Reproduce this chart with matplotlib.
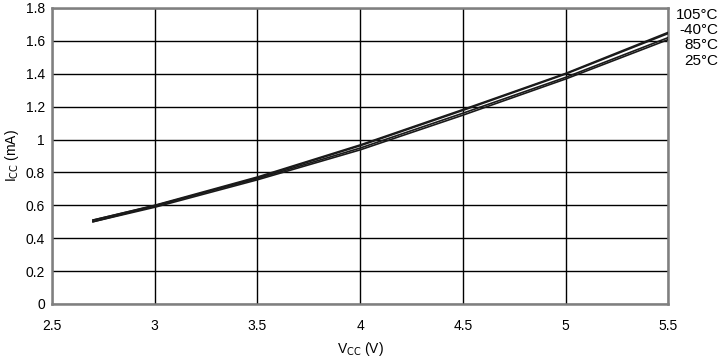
import matplotlib
matplotlib.use('Agg')
import matplotlib.pyplot as plt

plt.rcParams['font.family'] = ['Liberation Sans', 'DejaVu Sans']

# supply voltage (V)
vcc = [2.7, 3.0, 3.5, 4.0, 4.5, 5.0, 5.5]

# supply current (mA) per temperature
icc_105 = [0.51, 0.600, 0.772, 0.967, 1.182, 1.402, 1.652]
icc_m40 = [0.50, 0.595, 0.767, 0.962, 1.177, 1.398, 1.645]
icc_85 = [0.51, 0.598, 0.762, 0.948, 1.160, 1.378, 1.620]
icc_25 = [0.50, 0.588, 0.755, 0.937, 1.148, 1.368, 1.608]

temp_labels = ['105°C', '-40°C', '85°C', '25°C']
x_ticks = [2.5, 3, 3.5, 4, 4.5, 5, 5.5]
x_tick_labels = ['2.5', '3', '3.5', '4', '4.5', '5', '5.5']
y_ticks = [0, 0.2, 0.4, 0.6, 0.8, 1.0, 1.2, 1.4, 1.6, 1.8]
y_tick_labels = ['0', '0.2', '0.4', '0.6', '0.8', '1', '1.2', '1.4', '1.6', '1.8']

fig = plt.figure(figsize=(7.21, 3.61), dpi=100)
ax = fig.add_axes([0.072, 0.158, 0.855, 0.82])

for series in (icc_105, icc_m40, icc_85, icc_25):
    ax.plot(vcc, series, color='#1a1a1a', lw=1.2, zorder=3)

ax.set_xlim(2.5, 5.5)
ax.set_ylim(0, 1.8)
ax.set_xticks(x_ticks)
ax.set_xticklabels(x_tick_labels)
ax.set_yticks(y_ticks)
ax.set_yticklabels(y_tick_labels)
ax.tick_params(length=0, labelsize=10)
ax.tick_params(axis='x', pad=11)
ax.tick_params(axis='y', pad=5)
ax.grid(True, color='black', lw=1)

for s in ax.spines.values():
    s.set_color('#7f7f7f')
    s.set_linewidth(1.8)

ax.set_xlabel(r'V$_{\mathrm{CC}}$ (V)', fontsize=10, labelpad=5)
ax.set_ylabel(r'I$_{\mathrm{CC}}$ (mA)', fontsize=10, labelpad=3)

for i, lab in enumerate(temp_labels):
    fig.text(0.996, 0.958 - i * 0.042, lab, ha='right', va='center', fontsize=11)

fig.savefig('out.png', dpi=100)
